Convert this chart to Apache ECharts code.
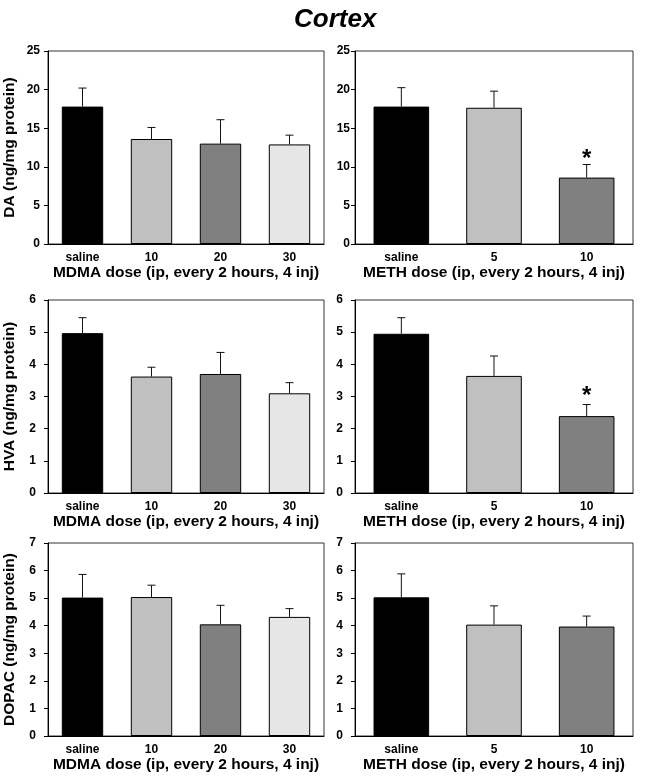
<!DOCTYPE html>
<html><head><meta charset="utf-8">
<script src="https://cdn.jsdelivr.net/npm/echarts@6/dist/echarts.min.js"></script>
<style>html,body{margin:0;padding:0;background:#fff}#c{width:646px;height:777px}</style>
</head><body><div id="c"></div>
<script>
// ---- data ----
const catMDMA = ['saline', '10', '20', '30'];
const catMETH = ['saline', '5', '10'];
const colMDMA = ['#000000', '#c0c0c0', '#808080', '#e6e6e6'];
const colMETH = ['#000000', '#c0c0c0', '#808080'];

const daMDMA = [17.8, 13.6, 13.0, 12.9];
const daMDMASem = [2.4, 1.5, 3.1, 1.2];
const daMETH = [17.8, 17.65, 8.6];
const daMETHSem = [2.45, 2.15, 1.7];
const daMETHSig = [null, null, 11.6];

const hvaMDMA = [4.97, 3.62, 3.70, 3.10];
const hvaMDMASem = [0.48, 0.29, 0.67, 0.33];
const hvaMETH = [4.95, 3.64, 2.39];
const hvaMETHSem = [0.50, 0.62, 0.36];
const hvaMETHSig = [null, null, 3.15];

const dopacMDMA = [5.02, 5.04, 4.05, 4.32];
const dopacMDMASem = [0.84, 0.43, 0.69, 0.30];
const dopacMETH = [5.03, 4.04, 3.97];
const dopacMETHSem = [0.85, 0.68, 0.38];

const yMax = [25, 6, 7];
const yStep = [5, 1, 1];
const yNames = ['DA (ng/mg protein)', 'HVA (ng/mg protein)', 'DOPAC (ng/mg protein)'];
const xNameMDMA = 'MDMA dose (ip, every 2 hours, 4 inj)';
const xNameMETH = 'METH dose (ip, every 2 hours, 4 inj)';

// ---- layout (styles / positions) ----
const FONT = 'Liberation Sans, Arial, sans-serif';
const rowsTop = [51, 300, 543];
const rowH = 193;
const cols = [{left: 48, width: 276}, {left: 355, width: 278}];
const labelMargin = [[8, 5], [12, 12], [12, 12]];

const panels = [
  {r: 0, c: 0, cats: catMDMA, cols: colMDMA, v: daMDMA, e: daMDMASem, xn: xNameMDMA},
  {r: 0, c: 1, cats: catMETH, cols: colMETH, v: daMETH, e: daMETHSem, s: daMETHSig, xn: xNameMETH},
  {r: 1, c: 0, cats: catMDMA, cols: colMDMA, v: hvaMDMA, e: hvaMDMASem, xn: xNameMDMA},
  {r: 1, c: 1, cats: catMETH, cols: colMETH, v: hvaMETH, e: hvaMETHSem, s: hvaMETHSig, xn: xNameMETH},
  {r: 2, c: 0, cats: catMDMA, cols: colMDMA, v: dopacMDMA, e: dopacMDMASem, xn: xNameMDMA},
  {r: 2, c: 1, cats: catMETH, cols: colMETH, v: dopacMETH, e: dopacMETHSem, xn: xNameMETH}
];

const grid = [], xAxis = [], yAxis = [], series = [];
panels.forEach((p, i) => {
  grid.push({left: cols[p.c].left, width: cols[p.c].width, top: rowsTop[p.r], height: rowH,
    show: true, borderColor: '#333', borderWidth: 1, backgroundColor: 'transparent'});
  xAxis.push({type: 'category', gridIndex: i, data: p.cats, boundaryGap: true,
    axisLine: {lineStyle: {color: '#000', width: 1}},
    axisTick: {alignWithLabel: true, length: 4, lineStyle: {color: '#000'}},
    axisLabel: {color: '#000', fontFamily: FONT, fontWeight: 'bold', fontSize: 12, margin: 8},
    name: p.xn, nameLocation: 'middle', nameGap: 19,
    nameTextStyle: {color: '#000', fontFamily: FONT, fontWeight: 'bold', fontSize: 15.5}});
  yAxis.push({type: 'value', gridIndex: i, min: 0, max: yMax[p.r], interval: yStep[p.r],
    splitLine: {show: false},
    axisLine: {show: true, lineStyle: {color: '#000', width: 1}},
    axisTick: {show: true, length: 4, lineStyle: {color: '#000'}},
    axisLabel: {color: '#000', fontFamily: FONT, fontWeight: 'bold', fontSize: 12, margin: labelMargin[p.r][p.c]},
    name: p.c === 0 ? yNames[p.r] : '', nameLocation: 'middle', nameGap: 30,
    nameTextStyle: {color: '#000', fontFamily: FONT, fontWeight: 'bold', fontSize: 15.5}});
  series.push({type: 'bar', xAxisIndex: i, yAxisIndex: i, barWidth: '60%',
    data: p.v.map((v, k) => ({value: v, itemStyle: {color: p.cols[k], borderColor: '#000', borderWidth: 1}})),
    z: 2, silent: true});
  series.push({type: 'custom', xAxisIndex: i, yAxisIndex: i, z: 3, silent: true,
    data: p.v.map((v, k) => [k, v, p.e[k]]),
    renderItem: (params, api) => {
      const k = api.value(0), v = api.value(1), e = api.value(2);
      const a = api.coord([k, v]), b = api.coord([k, v + e]);
      const st = {stroke: '#111', lineWidth: 1};
      return {type: 'group', children: [
        {type: 'line', shape: {x1: a[0], y1: a[1], x2: b[0], y2: b[1]}, style: st},
        {type: 'line', shape: {x1: b[0] - 4, y1: b[1], x2: b[0] + 4, y2: b[1]}, style: st}
      ]};
    }});
  if (p.s) {
    series.push({type: 'custom', xAxisIndex: i, yAxisIndex: i, z: 4, silent: true,
      data: p.s.map((v, k) => [k, v]).filter(d => d[1] != null),
      renderItem: (params, api) => {
        const pt = api.coord([api.value(0), api.value(1)]);
        return {type: 'text', x: pt[0], y: pt[1] + 5,
          style: {text: '*', fontSize: 24, fontWeight: 'bold', fontFamily: FONT, fill: '#000',
            align: 'center', verticalAlign: 'middle'}};
      }});
  }
});

const chart = echarts.init(document.getElementById('c'), null, {renderer: 'canvas'});
chart.setOption({
  animation: false,
  backgroundColor: '#fff',
  title: {text: 'Cortex', left: 294, top: 7, padding: 0,
    textStyle: {fontSize: 26, fontWeight: 'bold', fontStyle: 'italic', fontFamily: FONT, color: '#000'}},
  grid, xAxis, yAxis, series
});
</script>
</body></html>
